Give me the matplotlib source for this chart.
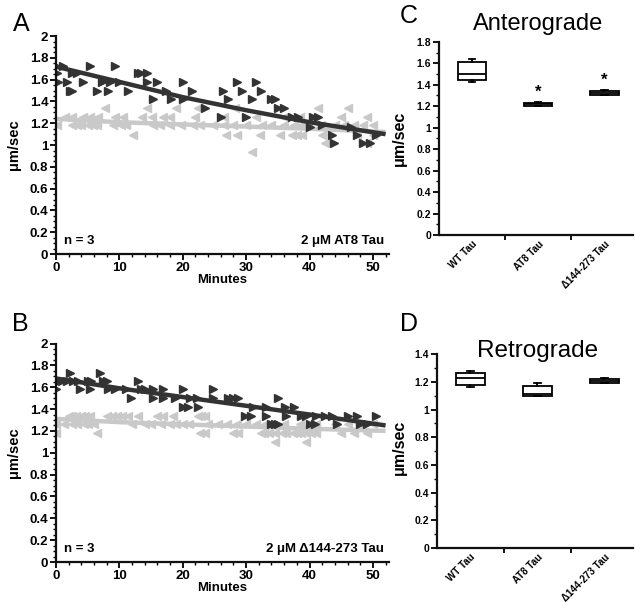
import numpy as np
import matplotlib
matplotlib.use("Agg")
import matplotlib.pyplot as plt
from matplotlib.ticker import MultipleLocator, FuncFormatter, FixedLocator

plt.rcParams['font.family'] = ['Liberation Sans', 'DejaVu Sans']

# ---- panel A : 2 uM AT8 Tau ----
a_dark_x = [0, 0.2, 1.1, 0.3, 1.7, 2.2, 2.6, 2.5, 3.3, 4.3, 5.4, 6.5, 7.2, 7.8, 8.5, 8.2,
            9.3, 10.0, 11.4, 12.9, 13.4, 14.3, 14.3, 15.3, 15.9, 17.4, 18.2, 20.0, 20.0,
            21.5, 23.5, 26.3, 26.1, 27.1, 28.5, 29.3, 30.0, 31.0, 31.6, 32.3, 34.0, 34.5,
            35.0, 35.9, 37.3, 38.2, 40.0, 40.6, 41.3, 41.9, 43.5, 43.9, 46.5, 47.5, 48.5,
            49.5, 50.5]
a_dark_y = [1.73, 1.66, 1.73, 1.58, 1.58, 1.50, 1.50, 1.66, 1.66, 1.58, 1.73, 1.50, 1.58,
            1.60, 1.58, 1.50, 1.73, 1.58, 1.50, 1.66, 1.66, 1.66, 1.58, 1.42, 1.58, 1.50,
            1.42, 1.58, 1.42, 1.50, 1.34, 1.50, 1.26, 1.42, 1.58, 1.50, 1.26, 1.42, 1.58,
            1.50, 1.42, 1.42, 1.34, 1.34, 1.26, 1.26, 1.17, 1.26, 1.26, 1.18, 1.09, 1.02,
            1.17, 1.09, 1.02, 1.02, 1.09]
a_light_x = [7.7, 14.3, 19.0, 22.4, 28.2, 41.3, 46.0,
             1.4, 2.5, 4.3, 5.4, 6.7, 9.3, 10.6, 13.5, 15.1, 16.9, 18.0, 22.0, 26.5, 31.6,
             36.0, 38.5, 45.0, 49.0,
             0.1, 2.5, 3.3, 4.0, 5.1, 5.9, 6.4, 9.0, 10.3, 11.1, 15.3, 16.4, 18.0, 19.8,
             21.6, 22.7, 24.8, 26.5, 28.0, 30.0, 32.5, 34.0, 36.0, 37.6, 38.6, 39.8, 41.8,
             44.0, 45.5, 47.0, 48.5, 50.0,
             12.2, 26.9, 28.6, 32.2, 35.3, 37.3, 38.1, 38.8, 42.0, 47.5, 50.0,
             42.4, 49.0, 31.0]
a_light_y = [1.34] * 7 + [1.26] * 18 + [1.18] * 32 + [1.09] * 11 + [1.02, 1.02, 0.94]

# ---- panel B : 2 uM d144-273 Tau ----
b_dark_x = [0, 0.4, 1.0, 1.8, 2.2, 2.7, 3.5, 3.8, 5.4, 5.1, 5.6, 6.9, 7.4, 8.0, 8.2, 9.3,
            11.1, 11.9, 13.0, 13.4, 14.0, 15.3, 15.3, 16.9, 16.9, 18.7, 20.0, 20.0, 20.8,
            21.1, 22.2, 22.4, 24.8, 24.8, 27.1, 27.9, 28.7, 29.8, 30.8, 31.1, 33.2, 33.2,
            35.0, 34.0, 34.5, 35.0, 36.1, 37.6, 36.3, 38.7, 39.5, 40.0, 40.8, 41.0, 42.4,
            43.6, 44.3, 46.0, 47.5, 48.0, 49.0, 50.5]
b_dark_y = [1.58, 1.66, 1.66, 1.66, 1.73, 1.66, 1.66, 1.58, 1.58, 1.66, 1.66, 1.73, 1.66,
            1.66, 1.58, 1.58, 1.58, 1.50, 1.66, 1.58, 1.58, 1.58, 1.50, 1.58, 1.50, 1.50,
            1.58, 1.42, 1.42, 1.50, 1.50, 1.42, 1.58, 1.50, 1.50, 1.50, 1.50, 1.34, 1.34,
            1.42, 1.42, 1.34, 1.50, 1.26, 1.26, 1.26, 1.42, 1.42, 1.34, 1.34, 1.34, 1.26,
            1.26, 1.34, 1.34, 1.34, 1.26, 1.34, 1.34, 1.26, 1.26, 1.34]
b_light_x = [2.0, 2.5, 3.2, 4.0, 4.6, 5.4, 8.0, 8.8, 9.6, 10.4, 11.4, 13.0, 16.0, 16.9,
             18.4, 22.4, 22.9, 23.5,
             0, 1.2, 2.5, 3.3, 4.4, 5.0, 6.0, 12.0, 14.0, 15.0, 16.5, 18.0, 19.0, 20.0,
             21.0, 24.0, 25.5, 27.0, 28.5, 30.0, 31.5, 33.0, 36.0, 38.5, 41.0, 44.0, 46.0,
             48.0, 50.0,
             0, 6.4, 22.7, 23.5, 27.9, 28.7, 32.3, 32.8, 33.6, 34.5, 35.7, 36.3, 37.4, 38.0,
             38.7, 39.5, 40.3, 41.0, 45.0, 47.0, 49.0,
             34.5, 39.5]
b_light_y = [1.34] * 18 + [1.26] * 29 + [1.18] * 21 + [1.10] * 2

fit_x = [0, 10, 20, 30, 40, 52]
a_dark_fit = [1.72, 1.58, 1.44, 1.32, 1.21, 1.10]
a_light_fit = [1.24, 1.21, 1.19, 1.17, 1.15, 1.12]
b_dark_fit = [1.68, 1.59, 1.51, 1.43, 1.35, 1.25]
b_light_fit = [1.31, 1.28, 1.26, 1.24, 1.22, 1.20]

# ---- panels C / D : box plots ----
groups = ['WT Tau', 'AT8 Tau', '\u0394144-273 Tau']
ant_lo = [1.43, 1.20, 1.30]
ant_q1 = [1.44, 1.20, 1.30]
ant_med = [1.50, 1.22, 1.32]
ant_q3 = [1.61, 1.23, 1.34]
ant_hi = [1.64, 1.24, 1.35]
ant_star = [None, 1.33, 1.44]

ret_lo = [1.16, 1.10, 1.19]
ret_q1 = [1.18, 1.10, 1.19]
ret_med = [1.23, 1.11, 1.205]
ret_q3 = [1.265, 1.17, 1.22]
ret_hi = [1.28, 1.19, 1.23]

dark = '#333333'
light = '#c9c9c9'
fmt = FuncFormatter(lambda v, p: '%g' % round(v, 2))


def style_axes(ax, fs):
    for s in ['top', 'right']:
        ax.spines[s].set_visible(False)
    for s in ['left', 'bottom']:
        ax.spines[s].set_linewidth(1.6)
        ax.spines[s].set_color('#111111')
    ax.tick_params(which='major', direction='out', length=4, width=1.3, labelsize=fs, pad=1.5)
    ax.tick_params(which='minor', direction='out', length=2, width=1.0)
    for lab in ax.get_xticklabels() + ax.get_yticklabels():
        lab.set_fontweight('bold')


def scatter_panel(ax, dx, dy, lx, ly, dfit, lfit, label):
    ax.plot(lx, ly, linestyle='none', marker='<', ms=6, color=light, mec=light)
    ax.plot(fit_x, lfit, color=light, lw=3.2, solid_capstyle='butt')
    ax.plot(dx, dy, linestyle='none', marker='>', ms=6, color=dark, mec=dark)
    ax.plot(fit_x, dfit, color=dark, lw=3.2, solid_capstyle='butt')
    ax.set_xlim(0, 52.5)
    ax.set_ylim(0, 2)
    ax.xaxis.set_major_locator(MultipleLocator(10))
    ax.xaxis.set_minor_locator(MultipleLocator(2))
    ax.yaxis.set_major_locator(MultipleLocator(0.2))
    ax.yaxis.set_minor_locator(MultipleLocator(0.05))
    ax.yaxis.set_major_formatter(fmt)
    ax.set_xlabel('Minutes', fontsize=9.5, fontweight='bold', labelpad=0)
    ax.set_ylabel('\u03bcm/sec', fontsize=10.5, fontweight='bold')
    ax.yaxis.set_label_coords(-0.105, 0.5)
    ax.text(0.025, 0.06, 'n = 3', transform=ax.transAxes, fontsize=9.5,
            fontweight='bold', ha='left', va='center')
    ax.text(0.985, 0.06, label, transform=ax.transAxes, fontsize=9.5,
            fontweight='bold', ha='right', va='center')
    style_axes(ax, 9.5)


def box_panel(ax, lo, q1, med, q3, hi, ymax, stars=None):
    stats = []
    for i in range(len(groups)):
        stats.append(dict(whislo=lo[i], q1=q1[i], med=med[i], q3=q3[i], whishi=hi[i], fliers=[]))
    lw = 1.3
    ax.bxp(stats, positions=[0, 1, 2], widths=0.43, showfliers=False, patch_artist=True,
           capwidths=0.1,
           boxprops=dict(facecolor='white', edgecolor='black', linewidth=lw),
           medianprops=dict(color='black', linewidth=lw),
           whiskerprops=dict(color='black', linewidth=lw),
           capprops=dict(color='black', linewidth=lw))
    if stars:
        for i, s in enumerate(stars):
            if s is not None:
                ax.text(i, s, '*', ha='center', va='center', fontsize=12, fontweight='bold')
    ax.set_xlim(-0.5, 2.43)
    ax.set_ylim(0, ymax)
    ax.set_xticks([0, 1, 2])
    ax.set_xticklabels(groups, rotation=45, ha='right', rotation_mode='anchor', fontsize=7)
    ax.xaxis.set_minor_locator(FixedLocator([0.5, 1.5]))
    ax.yaxis.set_major_locator(MultipleLocator(0.2))
    ax.yaxis.set_minor_locator(MultipleLocator(0.1))
    ax.yaxis.set_major_formatter(fmt)
    ax.set_ylabel('\u03bcm/sec', fontsize=11.5, fontweight='bold')
    style_axes(ax, 7.5)
    ax.tick_params(axis='x', which='major', length=0, pad=3)
    ax.tick_params(axis='x', which='minor', length=3.5, width=1.3)
    for lab in ax.get_xticklabels():
        lab.set_fontsize(7)


fig = plt.figure(figsize=(6.35, 6.02), dpi=100)

axA = fig.add_axes([0.0882, 0.578, 0.524, 0.362])
scatter_panel(axA, a_dark_x, a_dark_y, a_light_x, a_light_y, a_dark_fit, a_light_fit,
              '2 \u03bcM AT8 Tau')

axB = fig.add_axes([0.0882, 0.0664, 0.524, 0.363])
scatter_panel(axB, b_dark_x, b_dark_y, b_light_x, b_light_y, b_dark_fit, b_light_fit,
              '2 \u03bcM \u0394144-273 Tau')

axC = fig.add_axes([0.691, 0.6096, 0.3055, 0.321])
box_panel(axC, ant_lo, ant_q1, ant_med, ant_q3, ant_hi, 1.8, ant_star)
axC.yaxis.set_label_coords(-0.165, 0.5)

axD = fig.add_axes([0.688, 0.0897, 0.309, 0.322])
box_panel(axD, ret_lo, ret_q1, ret_med, ret_q3, ret_hi, 1.4)
axD.yaxis.set_label_coords(-0.153, 0.52)

fig.text(538 / 635, 1 - 24 / 602, 'Anterograde', fontsize=17, ha='center', va='center')
fig.text(538 / 635, 1 - 351 / 602, 'Retrograde', fontsize=17.5, ha='center', va='center')

for letter, px, py in [('A', 21, 24), ('B', 20, 324), ('C', 409, 16), ('D', 409, 324)]:
    fig.text(px / 635, 1 - py / 602, letter, fontsize=18, ha='center', va='center')

fig.savefig('out.png', dpi=100, facecolor='white')
